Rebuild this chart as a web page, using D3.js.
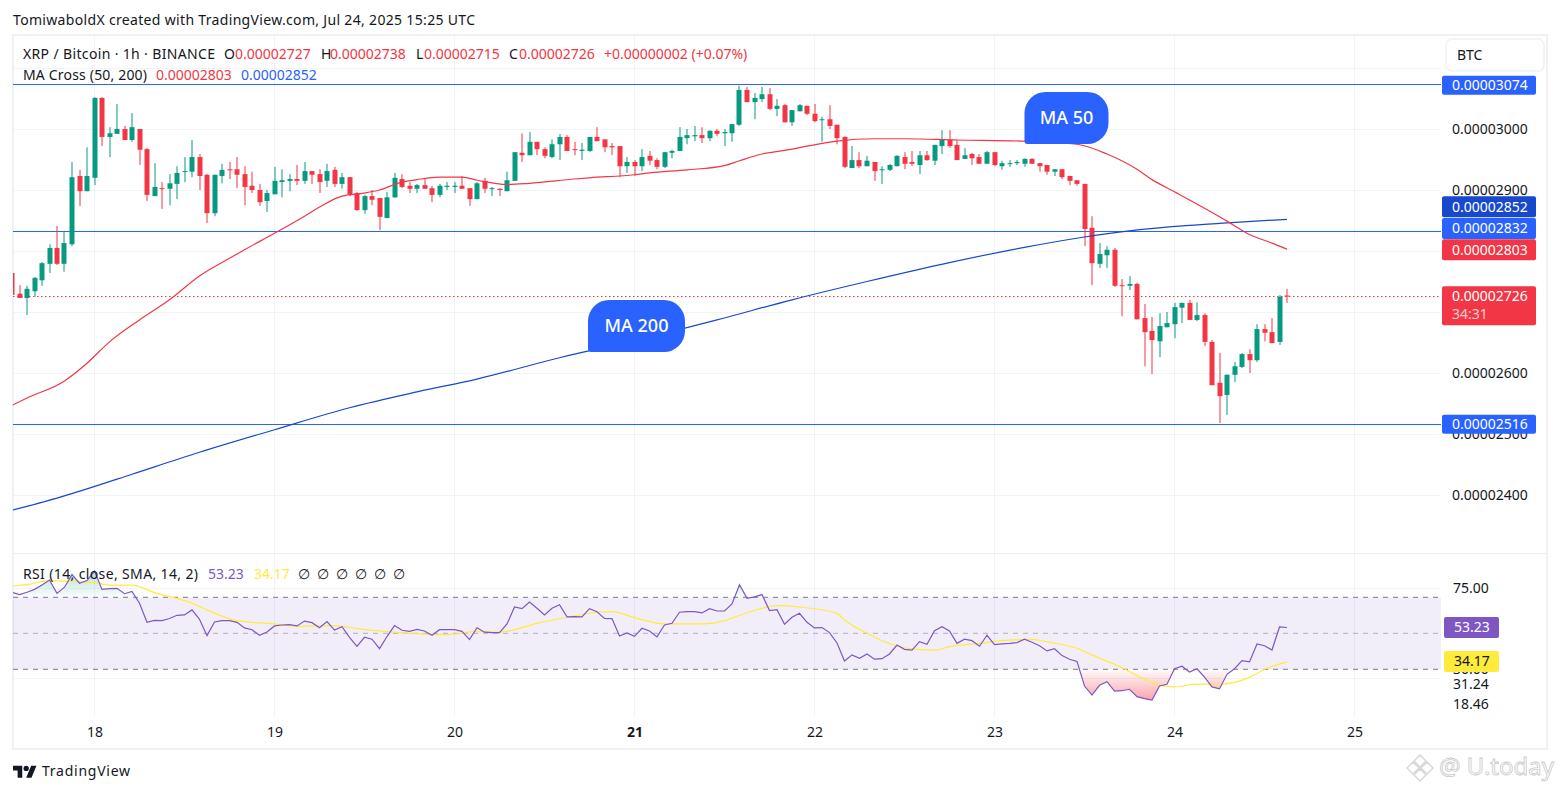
<!DOCTYPE html>
<html>
<head>
<meta charset="utf-8">
<script src="https://cdn.jsdelivr.net/npm/d3@7"></script>
<style>
    html, body { margin: 0; padding: 0; background: #fff; overflow: hidden; }
    svg { display: block; }
    text { font-family: "Noto Sans", Roboto, sans-serif; fill: #131722; }
</style>
</head>
<body>
<svg id="chart" width="1561" height="793"></svg>
<script>
// prices are in units of 0.00000001 BTC, one candle per hour starting Jul 17 13:00 UTC
const firstBar = Date.UTC(2025, 6, 17, 13);

const opens = [
    2764,2730,2723,2734,2752,2779,2805,2779,2811,2923,
    2898,2920,3051,2987,2992,3000,2982,3000,2967,2890,
    2903,2902,2910,2930,2930,2954,2925,2862,2923,2934,
    2934,2926,2907,2900,2882,2893,2913,2915,2918,2915,
    2931,2926,2915,2933,2910,2921,2895,2867,2890,2887,
    2854,2888,2918,2907,2902,2908,2903,2892,2905,2905,
    2907,2903,2885,2915,2902,2902,2898,2915,2961,2957,
    2979,2967,2954,2975,2987,2967,2964,2964,2987,2983,
    2972,2972,2939,2946,2939,2956,2949,2938,2961,2964,
    2985,2988,2990,2985,2997,2993,2993,3007,3064,3044,
    3049,3057,3033,3039,3011,3029,3038,3025,3015,3016,
    3007,2987,2936,2949,2939,2946,2933,2933,2939,2954,
    2946,2941,2957,2948,2972,2982,2974,2951,2959,2954,
    2943,2962,2939,2943,2944,2943,2951,2944,2941,2930,
    2934,2923,2916,2910,2838,2779,2793,2802,2744,2743,
    2746,2690,2669,2652,2675,2680,2707,2715,2687,2695,
    2651,2584,2564,2597,2610,2631,2621,2672,2667,2651,
    2727];
const highs = [
    2764,2744,2743,2757,2782,2811,2841,2831,2946,2933,
    2970,3052,3052,3003,3041,3005,3026,3000,2969,2944,
    2913,2926,2939,2954,2982,2959,2926,2925,2943,2946,
    2954,2939,2930,2910,2900,2938,2934,2926,2941,2946,
    2931,2934,2943,2938,2928,2921,2897,2892,2900,2887,
    2897,2928,2926,2913,2910,2918,2907,2910,2913,2913,
    2923,2903,2913,2920,2905,2903,2930,2962,2993,2995,
    2979,2970,2983,2992,2990,2979,2977,2987,3003,2983,
    2977,2972,2954,2949,2967,2964,2952,2962,2966,3003,
    3000,3005,3003,2998,3000,3000,3008,3071,3069,3059,
    3069,3067,3049,3041,3031,3041,3038,3041,3020,3039,
    3007,2988,2972,2962,2956,2946,2939,2943,2957,2962,
    2964,2964,2964,2974,2998,2998,2982,2969,2961,2959,
    2964,2962,2948,2949,2949,2952,2952,2944,2941,2934,
    2934,2923,2916,2910,2857,2813,2808,2805,2754,2759,
    2748,2713,2692,2698,2700,2715,2715,2720,2716,2698,
    2654,2633,2598,2618,2633,2639,2680,2680,2690,2728,
    2738];
const lows = [
    2728,2723,2695,2725,2743,2764,2777,2766,2808,2874,
    2898,2908,2972,2954,2992,2982,2979,2941,2882,2890,
    2869,2875,2885,2913,2921,2900,2846,2857,2911,2918,
    2903,2875,2895,2874,2864,2893,2888,2898,2908,2910,
    2910,2895,2905,2905,2902,2890,2866,2861,2875,2834,
    2854,2887,2903,2895,2895,2902,2880,2888,2900,2895,
    2902,2874,2885,2895,2890,2890,2898,2915,2946,2957,
    2957,2952,2952,2949,2964,2957,2949,2962,2980,2962,
    2957,2921,2928,2923,2931,2941,2934,2936,2952,2964,
    2975,2980,2977,2980,2988,2972,2979,3005,3044,3016,
    3044,3031,3021,3011,3005,3029,3023,3011,2979,3000,
    2975,2936,2936,2936,2939,2915,2910,2931,2939,2934,
    2939,2926,2948,2941,2959,2969,2949,2951,2941,2943,
    2943,2939,2933,2938,2941,2938,2943,2930,2925,2923,
    2918,2908,2907,2808,2744,2772,2772,2741,2693,2736,
    2688,2611,2598,2626,2675,2657,2682,2687,2685,2644,
    2580,2518,2531,2585,2608,2600,2618,2652,2649,2646,
    2715];
const closes = [
    2728,2723,2738,2756,2780,2805,2779,2813,2921,2898,
    2923,3051,2987,2993,3000,2982,3003,2966,2892,2905,
    2902,2911,2928,2931,2954,2923,2862,2925,2933,2933,
    2925,2905,2900,2880,2895,2915,2916,2918,2915,2931,
    2925,2913,2931,2910,2921,2892,2867,2890,2884,2856,
    2888,2920,2905,2902,2908,2902,2892,2907,2907,2907,
    2902,2885,2911,2902,2903,2900,2916,2962,2957,2979,
    2967,2956,2975,2987,2964,2966,2966,2987,2980,2970,
    2970,2939,2946,2939,2954,2948,2938,2962,2964,2987,
    2990,2990,2985,2997,2992,2995,3008,3064,3044,3051,
    3057,3033,3038,3011,3031,3039,3025,3013,3016,3005,
    2985,2938,2949,2939,2948,2931,2934,2941,2956,2943,
    2943,2957,2949,2974,2982,2972,2949,2957,2952,2943,
    2962,2941,2944,2944,2946,2951,2943,2939,2930,2934,
    2921,2915,2910,2836,2780,2795,2802,2743,2743,2746,
    2688,2667,2654,2677,2682,2708,2715,2687,2695,2651,
    2580,2562,2597,2611,2631,2621,2672,2666,2649,2725,
    2726];

// moving averages, read at these bar numbers
const ma50Bars = [0,2,7,10,13,17,21,25,29,31,35,39,41,44,47,49,52,54,57,60,62,66,69,75,77,83,85,90,95,97,100,103,107,110,115,119,126,135,142,146,150,152,155,159,162,165,168,170];
const ma50Values = [2547,2559,2587,2616,2651,2687,2720,2759,2788,2802,2829,2857,2872,2890,2895,2900,2913,2917,2921,2921,2916,2909,2911,2918,2920,2925,2928,2933,2940,2948,2959,2965,2974,2980,2984,2984,2982,2980,2975,2959,2934,2917,2897,2870,2849,2827,2813,2803];
const ma200Bars = [0,6,10,16,25,35,45,54,62,73,84,94,104,114,125,135,143,149,157,162,170];
const ma200Values = [2375,2395,2410,2434,2470,2507,2543,2569,2590,2625,2656,2687,2720,2750,2781,2806,2823,2833,2842,2846,2852];

const rsiValues = [
    72.8,71.5,72.8,74.4,76.8,79.6,72.2,75.6,82.6,77.8,
    79.3,84.6,74.4,74.8,75.0,72.0,73.3,66.7,56.1,57.2,
    57.0,58.2,60.0,60.2,63.0,57.8,48.7,56.3,57.0,57.0,
    56.1,53.0,52.0,48.9,50.7,54.1,54.6,54.8,54.1,56.8,
    55.9,53.1,56.5,51.8,53.7,47.8,42.8,47.8,46.7,41.5,
    48.2,54.3,51.7,51.1,52.2,51.3,48.9,52.0,52.0,52.0,
    51.1,46.5,53.1,50.6,50.4,50.4,55.2,64.6,63.7,67.4,
    63.9,60.2,63.9,65.9,59.1,59.3,59.1,63.7,62.0,58.3,
    58.2,48.5,50.2,48.3,52.8,51.3,48.0,54.6,55.6,61.7,
    62.0,62.0,61.3,63.7,62.4,62.4,66.3,77.0,69.4,70.2,
    71.5,62.6,63.1,55.0,58.9,61.1,56.1,53.0,53.2,50.4,
    44.6,34.6,38.0,36.1,38.5,35.6,35.9,38.5,43.5,41.1,
    40.7,45.4,43.9,51.5,53.7,51.3,44.4,46.7,45.9,42.8,
    48.9,43.7,44.1,44.4,44.8,46.7,45.0,43.1,40.2,41.4,
    37.6,35.6,34.4,20.7,15.7,21.1,23.1,17.9,18.1,18.9,
    14.8,13.7,12.9,20.7,21.7,30.3,31.7,28.5,30.3,25.6,
    20.2,19.1,27.2,30.3,34.8,34.1,44.1,43.1,40.7,53.5,
    53.23];
const smaBars = [0,2,5,8,11,13,16,19,24,26,30,35,38,43,46,49,53,58,62,65,70,74,78,80,83,87,92,95,97,100,102,105,110,111,114,116,120,123,125,129,132,136,138,142,144,148,152,155,158,161,165,167,170];
const smaValues = [76.3,77.0,79.3,78.7,78.1,76.8,76.8,72.6,66.7,63.0,57.0,55.2,53.9,54.3,52.6,51.3,50.0,49.3,50.9,50.7,55.5,58.9,61.7,62.0,58.7,55.2,55.2,57.0,60.0,63.9,65.4,64.6,61.1,57.4,50.0,45.9,41.3,40.6,42.6,44.4,45.9,46.6,45.2,41.7,38.0,30.9,22.6,20.2,21.8,21.7,25.5,30.0,34.17];

const priceTicks = [3000,2900,2800,2700,2600,2500,2400];
const priceGrid = [3100,3000,2900,2800,2700,2600,2500,2400];
const levels = [3074,2832,2516];
const rsiGrid = [75,25];
const rsiBands = [70,50,30];
const rsiTicks = [75,50,30];
const dayTicks = [18,19,20,21,22,23,24,25];

const ma50Last = 2803, ma200Last = 2852, lastClose = 2726;
const rsiLast = 53.23, smaLast = 34.17;
const fmt = v => (v / 1e8).toFixed(8);

const upColor = "#089981";
const downColor = "#f23645";
const blue = "#2962ff";
const purple = "#7e57c2";
const yellow = "#ffeb3b";
const gridColor = "#f2f3f5";

const plotLeft = 13, plotRight = 1441;

const x = d3.scaleUtc()
    .domain([new Date(Date.UTC(2025, 6, 18)), new Date(Date.UTC(2025, 6, 25))])
    .range([94.5, 1354.5]);
const barX = i => x(new Date(firstBar + i * 3600000));
const y = d3.scaleLinear().domain([2400, 3000]).range([495, 129]);
const yRsi = d3.scaleLinear().domain([25, 75]).range([678.3, 588.3]);

const svg = d3.select("#chart");
const defs = svg.append("defs");

defs.append("clipPath").attr("id", "price-clip").append("rect")
    .attr("x", plotLeft).attr("y", 36).attr("width", plotRight - plotLeft).attr("height", 517);
defs.append("clipPath").attr("id", "rsi-low").append("rect")
    .attr("x", plotLeft).attr("y", yRsi(30)).attr("width", plotRight - plotLeft).attr("height", 60);
defs.append("clipPath").attr("id", "rsi-high").append("rect")
    .attr("x", plotLeft).attr("y", 553).attr("width", plotRight - plotLeft).attr("height", yRsi(70) - 553);
defs.append("clipPath").attr("id", "rsi-clip").append("rect")
    .attr("x", plotLeft).attr("y", 553).attr("width", plotRight - plotLeft).attr("height", 165);

const gradLow = defs.append("linearGradient").attr("id", "grad-low")
    .attr("gradientUnits", "userSpaceOnUse").attr("x1", 0).attr("x2", 0)
    .attr("y1", yRsi(30)).attr("y2", yRsi(13));
gradLow.append("stop").attr("offset", 0).attr("stop-color", downColor).attr("stop-opacity", 0.02);
gradLow.append("stop").attr("offset", 1).attr("stop-color", downColor).attr("stop-opacity", 0.45);

const gradHigh = defs.append("linearGradient").attr("id", "grad-high")
    .attr("gradientUnits", "userSpaceOnUse").attr("x1", 0).attr("x2", 0)
    .attr("y1", yRsi(70)).attr("y2", yRsi(85));
gradHigh.append("stop").attr("offset", 0).attr("stop-color", upColor).attr("stop-opacity", 0.02);
gradHigh.append("stop").attr("offset", 1).attr("stop-color", upColor).attr("stop-opacity", 0.3);

// frame and panes
svg.append("rect").attr("x", 13).attr("y", 35).attr("width", 1534).attr("height", 714)
    .attr("fill", "none").attr("stroke", "#f0f1f4").attr("stroke-width", 2);
svg.append("line").attr("x1", plotLeft).attr("x2", 1547).attr("y1", 553.5).attr("y2", 553.5)
    .attr("stroke", "#eceef2");

// grid
const grid = svg.append("g").attr("stroke", gridColor).attr("stroke-width", 1);
grid.selectAll("line.h").data(priceGrid).enter().append("line")
    .attr("x1", plotLeft).attr("x2", plotRight)
    .attr("y1", d => Math.round(y(d)) + 0.5).attr("y2", d => Math.round(y(d)) + 0.5);
grid.selectAll("line.r").data(rsiGrid).enter().append("line")
    .attr("x1", plotLeft).attr("x2", plotRight)
    .attr("y1", d => Math.round(yRsi(d)) + 0.5).attr("y2", d => Math.round(yRsi(d)) + 0.5);
grid.selectAll("line.v").data(dayTicks).enter().append("line")
    .attr("x1", d => x(new Date(Date.UTC(2025, 6, d))))
    .attr("x2", d => x(new Date(Date.UTC(2025, 6, d))))
    .attr("y1", 36).attr("y2", 716);

// drawn horizontal levels and the last price line
svg.append("g").selectAll("line").data(levels).enter().append("line")
    .attr("x1", plotLeft).attr("x2", plotRight)
    .attr("y1", d => Math.round(y(d)) + 0.5).attr("y2", d => Math.round(y(d)) + 0.5)
    .attr("stroke", blue).attr("stroke-width", 1);
svg.append("line").attr("x1", plotLeft).attr("x2", plotRight)
    .attr("y1", Math.round(y(lastClose)) + 0.5).attr("y2", Math.round(y(lastClose)) + 0.5)
    .attr("stroke", downColor).attr("stroke-width", 1).attr("stroke-dasharray", "1.5 2.5");

// candles
const candles = svg.append("g").attr("clip-path", "url(#price-clip)")
    .selectAll("g").data(opens).enter().append("g")
    .attr("fill", (d, i) => closes[i] >= d ? upColor : downColor);
candles.append("rect")
    .attr("x", (d, i) => Math.round(barX(i)) - 0.5).attr("width", 1)
    .attr("y", (d, i) => y(highs[i]))
    .attr("height", (d, i) => y(lows[i]) - y(highs[i]));
candles.append("rect")
    .attr("x", (d, i) => Math.round(barX(i)) - 2.5).attr("width", 5)
    .attr("y", (d, i) => y(Math.max(d, closes[i])))
    .attr("height", (d, i) => Math.max(1, Math.abs(y(d) - y(closes[i]))));

// moving averages
const maLine = d3.line().x(d => barX(d[0])).y(d => y(d[1])).curve(d3.curveMonotoneX);
const maGroup = svg.append("g").attr("clip-path", "url(#price-clip)").attr("fill", "none").attr("stroke-width", 1.2);
maGroup.append("path").attr("d", maLine(d3.zip(ma200Bars, ma200Values))).attr("stroke", "#1848cc");
maGroup.append("path").attr("d", maLine(d3.zip(ma50Bars, ma50Values))).attr("stroke", downColor);

// bubble with a sharp lower left corner
function bubble(name, bar, price, w, h) {
    const left = barX(bar), bottom = y(price), r = 21, s = 3;
    const g = svg.append("g").attr("transform", `translate(${left},${bottom - h})`);
    g.append("path")
        .attr("d", `M${r} 0H${w - r}A${r} ${r} 0 0 1 ${w} ${r}V${h - r}A${r} ${r} 0 0 1 ${w - r} ${h}H${s}A${s} ${s} 0 0 1 0 ${h - s}V${r}A${r} ${r} 0 0 1 ${r} 0Z`)
        .attr("fill", blue);
    g.append("text").attr("x", w / 2).attr("y", h / 2).attr("dy", ".35em")
        .attr("text-anchor", "middle").attr("font-size", 18).attr("font-weight", 500).style("fill", "#fff").text(name);
}
bubble("MA 50", 135, 2975.4, 84, 52);
bubble("MA 200", 76.8, 2634.4, 97, 52);

// rsi pane
const rsiPoints = rsiValues.map((v, i) => [i, v]);
svg.append("rect").attr("x", plotLeft).attr("width", plotRight - plotLeft)
    .attr("y", yRsi(70)).attr("height", yRsi(30) - yRsi(70))
    .attr("fill", purple).attr("fill-opacity", 0.1);
svg.append("g").selectAll("line").data(rsiBands).enter().append("line")
    .attr("x1", plotLeft).attr("x2", plotRight)
    .attr("y1", d => yRsi(d)).attr("y2", d => yRsi(d))
    .attr("stroke", "#787b86").attr("stroke-dasharray", "5 5")
    .attr("stroke-opacity", d => d === 50 ? 0.55 : 1);

svg.append("path").attr("clip-path", "url(#rsi-low)").attr("fill", "url(#grad-low)")
    .attr("d", d3.area().x(d => barX(d[0])).y0(yRsi(30)).y1(d => yRsi(d[1]))(rsiPoints));
svg.append("path").attr("clip-path", "url(#rsi-high)").attr("fill", "url(#grad-high)")
    .attr("d", d3.area().x(d => barX(d[0])).y0(yRsi(70)).y1(d => yRsi(d[1]))(rsiPoints));

svg.append("path").attr("clip-path", "url(#rsi-clip)").attr("fill", "none").attr("stroke", yellow).attr("stroke-width", 1.2)
    .attr("d", d3.line().x(d => barX(d[0])).y(d => yRsi(d[1])).curve(d3.curveMonotoneX)(d3.zip(smaBars, smaValues)));
svg.append("path").attr("clip-path", "url(#rsi-clip)").attr("fill", "none").attr("stroke", purple).attr("stroke-width", 1.2)
    .attr("d", d3.line().x(d => barX(d[0])).y(d => yRsi(d[1]))(rsiPoints));

// axes
function cleanAxis(g, size) {
    g.attr("font-family", null).attr("font-size", size);
    g.select(".domain").remove();
}
svg.append("g").attr("transform", "translate(1452,0)")
    .call(d3.axisRight(y).tickValues(priceTicks).tickSize(0).tickPadding(0).tickFormat(fmt))
    .call(cleanAxis, 14);
svg.append("g").attr("transform", "translate(1453,0)")
    .call(d3.axisRight(yRsi).tickValues(rsiTicks).tickSize(0).tickPadding(0).tickFormat(d => d.toFixed(2)))
    .call(cleanAxis, 14);
svg.append("g").attr("transform", "translate(0,727)")
    .call(d3.axisBottom(x).tickValues(dayTicks.map(d => new Date(Date.UTC(2025, 6, d)))).tickSize(0).tickPadding(0)
        .tickFormat(d => d.getUTCDate()))
    .call(cleanAxis, 14)
    .selectAll("text").attr("font-weight", d => d.getUTCDate() === 21 ? 700 : 400);

// price tags, drawn over the axis labels
function tag(text, top, h, fill, textFill, left, right, extra) {
    svg.append("rect").attr("x", left).attr("y", top).attr("width", right - left).attr("height", h)
        .attr("rx", 2).attr("fill", fill);
    svg.append("text").attr("x", left + 10).attr("y", top + (extra ? 10 : h / 2)).attr("dy", ".35em")
        .attr("font-size", 14).style("fill", textFill).text(text);
    if (extra) {
        svg.append("text").attr("x", left + 10).attr("y", top + 28).attr("dy", ".35em")
            .attr("font-size", 14).style("fill", "#fff").style("opacity", 0.75).text(extra);
    }
}
const tagL = 1442, tagR = 1536;
tag(fmt(3074), y(3074) - 8, 19, blue, "#fff", tagL, tagR);
tag(fmt(ma200Last), y(ma200Last) - 23, 21, "#1848cc", "#fff", tagL, tagR);
tag(fmt(2832), y(2832) - 13.5, 21, blue, "#fff", tagL, tagR);
tag(fmt(ma50Last), y(ma50Last) - 10, 21, downColor, "#fff", tagL, tagR);
tag(fmt(lastClose), y(lastClose) - 10, 39, downColor, "#fff", tagL, tagR, "34:31");
tag(fmt(2516), y(2516) - 9.5, 19, blue, "#fff", tagL, tagR);
tag(rsiLast.toFixed(2), 617, 21, purple, "#fff", 1444, 1499);
tag(smaLast.toFixed(2), 651, 21, yellow, "#131722", 1444, 1499);

const extraRsi = [["31.24", 684], ["18.46", 704.5]];
svg.append("g").selectAll("text").data(extraRsi).enter().append("text")
    .attr("x", 1453).attr("y", d => d[1]).attr("dy", ".35em").attr("font-size", 14).text(d => d[0]);

// currency box
svg.append("rect").attr("x", 1446).attr("y", 39).attr("width", 98).attr("height", 32).attr("rx", 6)
    .attr("fill", "#fff").attr("stroke", "#f0f1f4").attr("stroke-width", 1.5);
svg.append("text").attr("x", 1457).attr("y", 55).attr("dy", ".35em").attr("font-size", 14).text("BTC");

// legend texts, width is only given where the font runs narrower than the original
function label(str, px, py, color, width) {
    const t = svg.append("text").attr("x", px).attr("y", py).attr("dy", ".35em").attr("font-size", 14)
        .style("fill", color || "#131722").text(str);
    if (width) t.attr("textLength", width).attr("lengthAdjust", "spacing");
}
label("TomiwaboldX created with TradingView.com, Jul 24, 2025 15:25 UTC", 13, 20, null, 462);
label("XRP / Bitcoin · 1h · BINANCE", 23, 54, null, 192);
label("O", 224, 54); label(fmt(2727), 235, 54, downColor);
label("H", 321, 54); label(fmt(2738), 330, 54, downColor);
label("L", 416, 54); label(fmt(2715), 424, 54, downColor);
label("C", 509, 54); label(fmt(2726), 519, 54, downColor);
label("+0.00000002 (+0.07%)", 604, 54, downColor);
label("MA Cross (50, 200)", 23, 75, null, 124);
label(fmt(ma50Last), 156, 75, downColor);
label(fmt(ma200Last), 241, 75, blue);
label("RSI (14, close, SMA, 14, 2)", 23, 574, null, 175);
label(rsiLast.toFixed(2), 208, 574, purple);
label(smaLast.toFixed(2), 254, 574, yellow);
[298, 317, 336, 355, 374, 393].forEach(px => label("∅", px, 574));

// footer logo
const logo = svg.append("g").attr("transform", "translate(13,764.5) scale(.66)").attr("fill", "#131722");
logo.append("path").attr("d", "M14 20H7V9H0V2h14v18zM28 20h-8l7.5-18h8L28 20z");
logo.append("circle").attr("cx", 20).attr("cy", 6).attr("r", 4);
label("TradingView", 42, 771, null, 88);

// watermark
const mark = svg.append("g").attr("transform", "translate(1420,768)")
    .attr("fill", "none").attr("stroke", "#d9d9dc").attr("stroke-width", 1.5);
mark.append("path").attr("d", "M0 -13L6 -7L0 -1L-6 -7ZM-7 -6L-1 0L-7 6L-13 0ZM7 -6L13 0L7 6L1 0ZM0 1L6 7L0 13L-6 7Z");
svg.append("text").attr("x", 1439).attr("y", 767).attr("dy", ".35em").attr("font-size", 24)
    .style("fill", "#fff").style("stroke", "#c9c9cc").style("stroke-width", 0.8).text("@ U.today");
</script>
</body>
</html>
